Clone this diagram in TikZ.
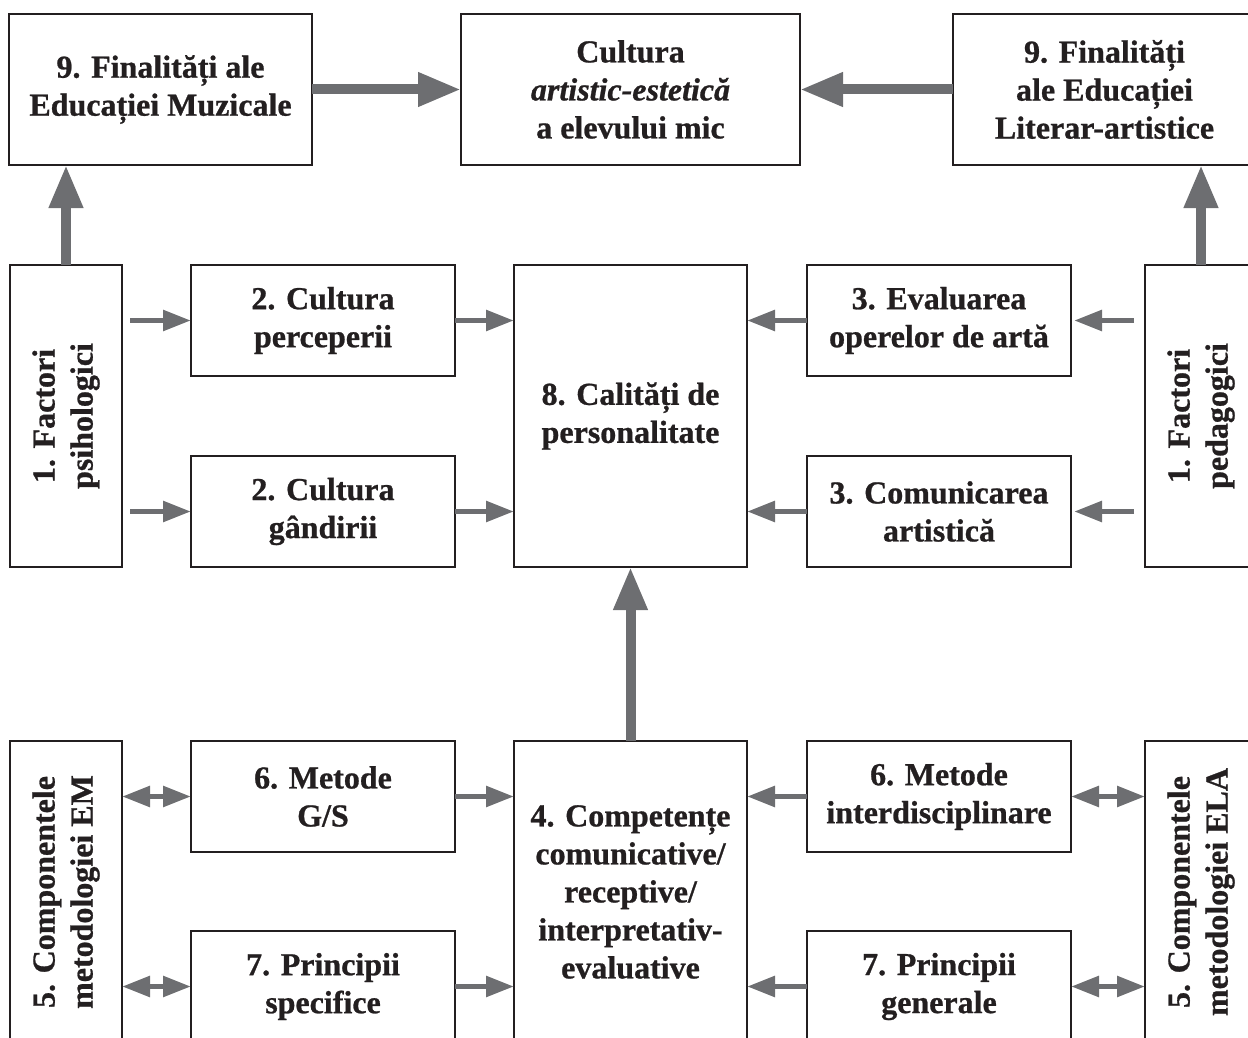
\documentclass[tikz,border=0pt]{standalone}
\usepackage{fontspec}
\setmainfont{Liberation Serif}[BoldFont={Liberation Serif Bold}, BoldItalicFont={Liberation Serif Bold Italic}, BoldFeatures={FakeBold=0.8}, BoldItalicFeatures={FakeBold=0.8}]
\usetikzlibrary{arrows.meta, positioning}
\definecolor{ink}{HTML}{231F20}
\definecolor{arrowgray}{HTML}{6D6E71}
\tikzset{
  box/.style={draw=ink, line width=1pt, outer sep=0pt, text=ink, align=center, inner sep=0pt,
    font=\fontsize{16}{19}\selectfont\bfseries, minimum width=132pt, minimum height=55.5pt},
  topbox/.style={box, minimum width=151.5pt, minimum height=75.5pt},
  tallbox/.style={box, minimum width=56pt, minimum height=151pt},
  midbox/.style={box, minimum width=116.5pt, minimum height=151pt},
  vtext/.style={rotate=90, align=center, text=ink, font=\fontsize{16}{19}\selectfont\bfseries},
  bigflow/.style={-{Triangle[length=21.5pt,width=16pt]}, line width=5pt, draw=arrowgray},
  flow/.style={-{Triangle[length=14pt,width=10pt]}, line width=2.75pt, draw=arrowgray},
  twoway/.style={flow, {Triangle[length=14pt,width=10pt]}-{Triangle[length=14pt,width=10pt]}}
}
\begin{document}
\begin{tikzpicture}[x=0.5pt, y=-0.5pt]
  \useasboundingbox (0,0) rectangle (1248,1038);
  \clip (0,0) rectangle (1248,1038);
  % top row
  \node[topbox] (finEM) at (160.5,89.5) {9. Finalități ale\\Educației Muzicale};
  \node[topbox, minimum width=169.5pt] (cult) [right=74.5pt of finEM] {Cultura\\\textit{artistic-estetică}\\a elevului mic};
  \node[topbox] (finELA) [right=76.5pt of cult] {9. Finalități\\ale Educației\\Literar-artistice};
  % middle row
  \node[tallbox] (psi) at (66,416) {};
  \node[vtext] at (psi) {1. Factori\\psihologici};
  \node[box] (perc) [right=34.5pt of psi.north east, anchor=north west] {2. Cultura\\perceperii};
  \node[box] (gand) [below=40pt of perc] {2. Cultura\\gândirii};
  \node[midbox] (cal) [right=29.5pt of perc.north east, anchor=north west] {8. Calități de\\personalitate};
  \node[box] (eval) [right=30pt of cal.north east, anchor=north west] {3. Evaluarea\\operelor de artă};
  \node[box] (comart) [below=40pt of eval] {3. Comunicarea\\artistică};
  \node[tallbox] (ped) [right=37pt of eval.north east, anchor=north west] {};
  \node[vtext] at (ped) {1. Factori\\pedagogici};
  % bottom row
  \node[tallbox] (compEM) at (66,892) {};
  \node[vtext] at (compEM) {5. Componentele\\metodologiei EM};
  \node[box] (metG) [right=34.5pt of compEM.north east, anchor=north west] {6. Metode\\G/S};
  \node[box] (prinS) [below=39.5pt of metG] {7. Principii\\specifice};
  \node[midbox] (comp) [right=29.5pt of metG.north east, anchor=north west] {4. Competențe\\comunicative/\\receptive/\\interpretativ-\\evaluative};
  \node[box] (metI) [right=30pt of comp.north east, anchor=north west] {6. Metode\\interdisciplinare};
  \node[box] (prinG) [below=39.5pt of metI] {7. Principii\\generale};
  \node[tallbox] (compELA) [right=37pt of metI.north east, anchor=north west] {};
  \node[vtext] at (compELA) {5. Componentele\\metodologiei ELA};
  % thick arrows
  \draw[bigflow] (finEM) -- (cult);
  \draw[bigflow] (finELA) -- (cult);
  \draw[bigflow] (psi.north) -- (psi.north |- finEM.south);
  \draw[bigflow] (ped.north) -- (ped.north |- finELA.south);
  \draw[bigflow] (comp.north) -- (cal.south);
  % thin arrows
  \draw[flow, shorten <=4pt] (psi.east |- perc) -- (perc);
  \draw[flow, shorten <=4pt] (psi.east |- gand) -- (gand);
  \draw[flow] (perc) -- (cal.west |- perc);
  \draw[flow] (gand) -- (cal.west |- gand);
  \draw[flow, shorten <=5.5pt, shorten >=1.5pt] (ped.west |- eval) -- (eval);
  \draw[flow, shorten <=5.5pt, shorten >=1.5pt] (ped.west |- comart) -- (comart);
  \draw[flow] (eval) -- (cal.east |- eval);
  \draw[flow] (comart) -- (cal.east |- comart);
  \draw[twoway] (compEM.east |- metG) -- (metG);
  \draw[twoway] (compEM.east |- prinS) -- (prinS);
  \draw[flow] (metG) -- (comp.west |- metG);
  \draw[flow] (prinS) -- (comp.west |- prinS);
  \draw[flow] (metI) -- (comp.east |- metI);
  \draw[flow] (prinG) -- (comp.east |- prinG);
  \draw[twoway] (metI) -- (compELA.west |- metI);
  \draw[twoway] (prinG) -- (compELA.west |- prinG);
\end{tikzpicture}
\end{document}
